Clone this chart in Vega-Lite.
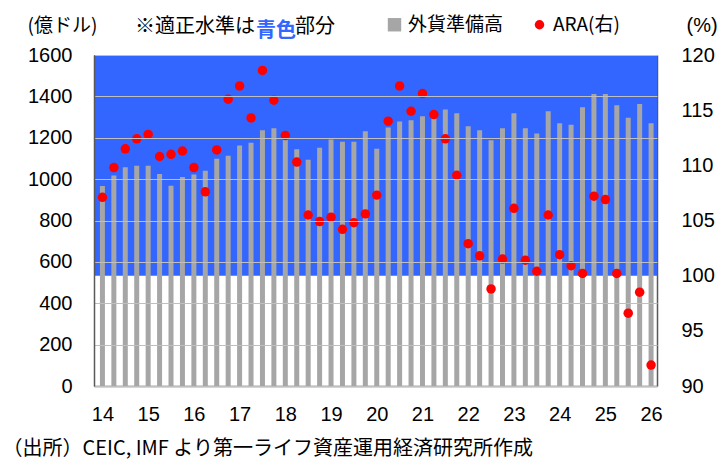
{
  "$schema": "https://vega.github.io/schema/vega-lite/v6.json",
  "width": 563,
  "height": 331,
  "autosize": {"type": "none"},
  "padding": {"left": 94, "top": 55, "right": 61, "bottom": 73},
  "background": "white",
  "config": {
    "view": {"stroke": null},
    "font": "Noto Sans CJK JP"
  },
  "title": {
    "text": "※適正水準は　　部分",
    "anchor": "start",
    "frame": "group",
    "orient": "top",
    "font": "Noto Sans CJK JP",
    "fontSize": 20,
    "fontWeight": "normal",
    "color": "#000000",
    "dx": 41,
    "dy": 26
  },
  "datasets": {
    "main": [
      {"t": 2014.00, "res": 967, "ara": 107.1},
      {"t": 2014.25, "res": 1017, "ara": 109.8},
      {"t": 2014.50, "res": 1057, "ara": 111.5},
      {"t": 2014.75, "res": 1065, "ara": 112.4},
      {"t": 2015.00, "res": 1065, "ara": 112.8},
      {"t": 2015.25, "res": 1025, "ara": 110.8},
      {"t": 2015.50, "res": 968, "ara": 111.0},
      {"t": 2015.75, "res": 1010, "ara": 111.3},
      {"t": 2016.00, "res": 1022, "ara": 109.8},
      {"t": 2016.25, "res": 1041, "ara": 107.6},
      {"t": 2016.50, "res": 1099, "ara": 111.4},
      {"t": 2016.75, "res": 1113, "ara": 116.0},
      {"t": 2017.00, "res": 1162, "ara": 117.2},
      {"t": 2017.25, "res": 1176, "ara": 114.3},
      {"t": 2017.50, "res": 1236, "ara": 118.6},
      {"t": 2017.75, "res": 1246, "ara": 115.9},
      {"t": 2018.00, "res": 1202, "ara": 112.7},
      {"t": 2018.25, "res": 1144, "ara": 110.3},
      {"t": 2018.50, "res": 1094, "ara": 105.5},
      {"t": 2018.75, "res": 1152, "ara": 104.9},
      {"t": 2019.00, "res": 1191, "ara": 105.3},
      {"t": 2019.25, "res": 1181, "ara": 104.2},
      {"t": 2019.50, "res": 1181, "ara": 104.8},
      {"t": 2019.75, "res": 1231, "ara": 105.6},
      {"t": 2020.00, "res": 1147, "ara": 107.3},
      {"t": 2020.25, "res": 1250, "ara": 114.0},
      {"t": 2020.50, "res": 1279, "ara": 117.2},
      {"t": 2020.75, "res": 1284, "ara": 114.9},
      {"t": 2021.00, "res": 1304, "ara": 116.5},
      {"t": 2021.25, "res": 1315, "ara": 114.6},
      {"t": 2021.50, "res": 1337, "ara": 112.4},
      {"t": 2021.75, "res": 1318, "ara": 109.1},
      {"t": 2022.00, "res": 1255, "ara": 102.9},
      {"t": 2022.25, "res": 1236, "ara": 101.8},
      {"t": 2022.50, "res": 1188, "ara": 98.8},
      {"t": 2022.75, "res": 1246, "ara": 101.5},
      {"t": 2023.00, "res": 1318, "ara": 106.1},
      {"t": 2023.25, "res": 1246, "ara": 101.4},
      {"t": 2023.50, "res": 1221, "ara": 100.4},
      {"t": 2023.75, "res": 1328, "ara": 105.5},
      {"t": 2024.00, "res": 1270, "ara": 101.9},
      {"t": 2024.25, "res": 1263, "ara": 100.9},
      {"t": 2024.50, "res": 1347, "ara": 100.2},
      {"t": 2024.75, "res": 1411, "ara": 107.2},
      {"t": 2025.00, "res": 1411, "ara": 106.9},
      {"t": 2025.25, "res": 1357, "ara": 100.2},
      {"t": 2025.50, "res": 1297, "ara": 96.6},
      {"t": 2025.75, "res": 1363, "ara": 98.5},
      {"t": 2026.00, "res": 1270, "ara": 91.9}
    ],
    "band": [
      {"lo": 100, "hi": 120, "name": "青色"}
    ]
  },
  "data": {"name": "main"},
  "layer": [
    {
      "data": {"name": "band"},
      "mark": {"type": "rect", "opacity": 1},
      "encoding": {
        "y": {"field": "lo", "type": "quantitative", "scale": {"domain": [90, 120], "nice": false, "zero": false}, "axis": null},
        "y2": {"field": "hi"},
        "color": {
          "field": "name", "type": "nominal",
          "scale": {"domain": ["青色"], "range": ["#3366ff"]},
          "legend": {
            "orient": "none", "legendX": 142, "legendY": -34,
            "title": null, "padding": 0,
            "symbolSize": 0, "symbolOpacity": 0, "symbolStrokeWidth": 0, "labelOffset": 0,
            "labelFont": "Noto Sans CJK JP", "labelFontSize": 20, "labelFontWeight": "bold", "labelColor": "#3366ff"
          }
        }
      }
    },
    {
      "mark": {"type": "bar", "color": "#a6a6a6", "size": 5},
      "encoding": {
        "x": {
          "field": "t", "type": "quantitative",
          "scale": {"domain": [2013.925, 2026.02], "nice": false, "zero": false},
          "axis": {
            "values": [2014, 2015, 2016, 2017, 2018, 2019, 2020, 2021, 2022, 2023, 2024, 2025, 2026],
            "labelExpr": "format(datum.value - 2000, 'd')",
            "grid": false, "ticks": false,
            "domainColor": "#595959", "domainWidth": 1.5,
            "labelFont": "Liberation Sans", "labelFontSize": 20, "labelColor": "#000000",
            "labelPadding": 18, "labelFlush": false, "labelOverlap": false,
            "title": "（出所）CEIC, IMF より第一ライフ資産運用経済研究所作成",
            "titleFont": "Noto Sans CJK JP", "titleFontSize": 20, "titleFontWeight": "normal", "titleColor": "#000000",
            "titleAnchor": "start", "titleAlign": "left", "titleBaseline": "middle",
            "titleX": -92, "titleY": 62
          }
        },
        "y": {
          "field": "res", "type": "quantitative",
          "scale": {"domain": [0, 1600], "nice": false},
          "axis": {
            "orient": "left",
            "values": [0, 200, 400, 600, 800, 1000, 1200, 1400, 1600],
            "format": "d",
            "grid": true, "gridColor": "#bfbfbf", "gridWidth": 1.2,
            "ticks": false, "zindex": 1,
            "domainColor": "#595959", "domainWidth": 1.5,
            "labelFont": "Liberation Sans", "labelFontSize": 20, "labelColor": "#000000",
            "labelPadding": 22,
            "title": "(億ドル)",
            "titleFont": "Noto Sans CJK JP", "titleFontSize": 19, "titleFontWeight": "normal", "titleColor": "#000000",
            "titleAngle": 0, "titleAlign": "left", "titleBaseline": "middle",
            "titleX": -67, "titleY": -30
          }
        }
      }
    },
    {
      "mark": {"type": "point", "filled": true, "opacity": 1},
      "encoding": {
        "x": {"field": "t", "type": "quantitative"},
        "y": {
          "field": "ara", "type": "quantitative",
          "scale": {"domain": [90, 120], "nice": false, "zero": false},
          "axis": {
            "orient": "right",
            "values": [90, 95, 100, 105, 110, 115, 120],
            "grid": false, "ticks": false,
            "domainColor": "#595959", "domainWidth": 1.5,
            "labelFont": "Liberation Sans", "labelFontSize": 20, "labelColor": "#000000",
            "labelPadding": 24,
            "title": "(%)",
            "titleFont": "Liberation Sans", "titleFontSize": 20, "titleFontWeight": "normal", "titleColor": "#000000",
            "titleAngle": 0, "titleAlign": "left", "titleBaseline": "middle",
            "titleX": 29, "titleY": -30
          }
        },
        "color": {
          "datum": "ARA(右)", "type": "nominal",
          "scale": {"domain": ["外貨準備高", "ARA(右)"], "range": ["#a6a6a6", "#ff0000"]},
          "legend": {
            "orient": "none", "legendX": 291, "legendY": -40,
            "direction": "horizontal", "title": null,
            "labelFont": "Noto Sans CJK JP", "labelFontSize": 19, "labelColor": "#000000",
            "columnPadding": 26, "labelOffset": 4, "padding": 0, "symbolStrokeWidth": 0
          }
        },
        "shape": {
          "datum": "ARA(右)", "type": "nominal",
          "scale": {"domain": ["外貨準備高", "ARA(右)"], "range": ["square", "circle"]}
        },
        "size": {
          "datum": "ARA(右)", "type": "nominal",
          "scale": {"domain": ["外貨準備高", "ARA(右)"], "range": [180, 90]}
        }
      }
    }
  ],
  "resolve": {
    "scale": {"y": "independent", "color": "independent", "shape": "independent", "size": "independent"},
    "legend": {"color": "independent", "shape": "independent", "size": "independent"}
  }
}
